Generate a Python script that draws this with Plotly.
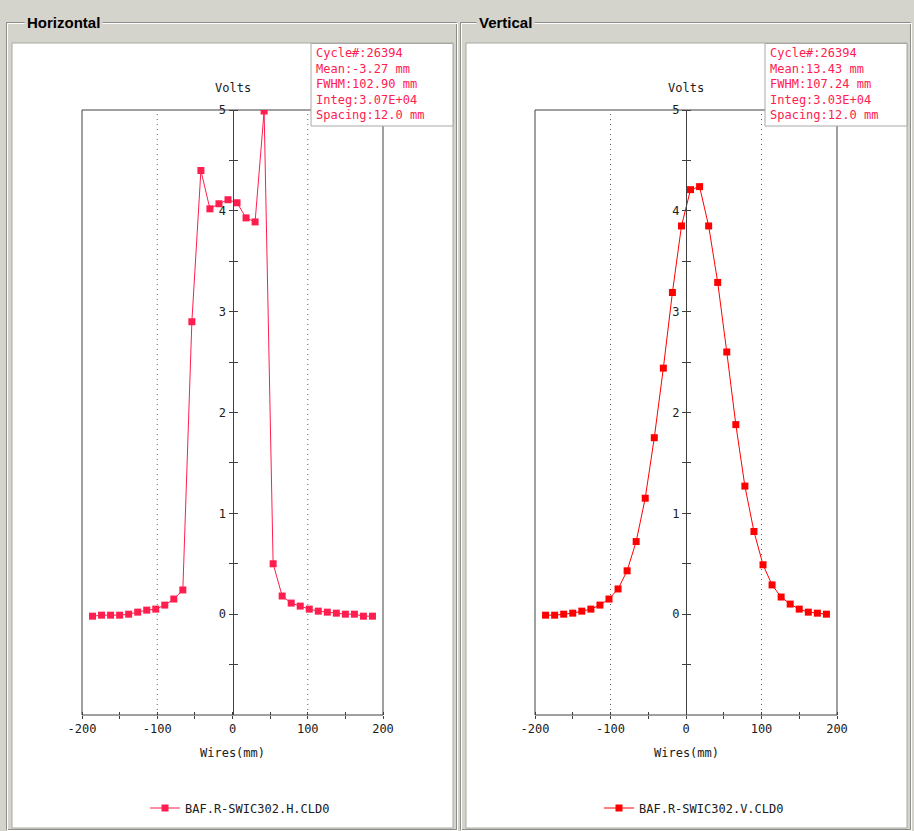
import plotly.graph_objects as go

W, H = 914, 831

# ---------------- data ----------------
WIRES_MM = [-186, -174, -162, -150, -138, -126, -114, -102, -90, -78, -66, -54,
            -42, -30, -18, -6, 6, 18, 30, 42, 54, 66, 78, 90,
            102, 114, 126, 138, 150, 162, 174, 186]

H_VOLTS = [-0.02, -0.01, -0.01, -0.01, 0.00, 0.02, 0.04, 0.05, 0.09, 0.15, 0.24, 2.90,
           4.40, 4.02, 4.07, 4.11, 4.08, 3.93, 3.89, 4.99, 0.50, 0.18, 0.11, 0.08,
           0.05, 0.03, 0.02, 0.01, 0.00, 0.00, -0.02, -0.02]

V_VOLTS = [-0.01, -0.01, 0.00, 0.01, 0.03, 0.05, 0.09, 0.15, 0.25, 0.43, 0.72, 1.15,
           1.75, 2.44, 3.19, 3.85, 4.21, 4.24, 3.85, 3.29, 2.60, 1.88, 1.27, 0.82,
           0.49, 0.29, 0.17, 0.10, 0.05, 0.02, 0.01, 0.00]

H_NAME = "BAF.R-SWIC302.H.CLD0"
V_NAME = "BAF.R-SWIC302.V.CLD0"

INFO_H = ["Cycle#:26394", "Mean:-3.27 mm", "FWHM:102.90 mm", "Integ:3.07E+04", "Spacing:12.0 mm"]
INFO_V = ["Cycle#:26394", "Mean:13.43 mm", "FWHM:107.24 mm", "Integ:3.03E+04", "Spacing:12.0 mm"]

X_TICKS = [-200, -150, -100, -50, 0, 50, 100, 150, 200]
X_TICK_TEXT = ["-200", "", "-100", "", "0", "", "100", "", "200"]
Y_TICKS = [-0.5, 0, 0.5, 1, 1.5, 2, 2.5, 3, 3.5, 4, 4.5, 5]
Y_TICK_TEXT = ["", "0", "", "1", "", "2", "", "3", "", "4", "", "5"]
GRID_X = [-100, 100]
X_RANGE = [-200, 200]
Y_RANGE = [-1, 5]

# ---------------- styles ----------------
H_COLOR = "#ff1e4e"
V_COLOR = "#ff0000"
INFO_COLOR = "#ff2050"
BG = "#d4d3cc"
AXC = "#404040"
MONO = "DejaVu Sans Mono"
TXT = "#202020"


def px(x):
    return x / W


def py(y):
    return 1 - y / H


LEFT_DOM = [px(82), px(383)]
RIGHT_DOM = [px(535), px(837)]
Y_DOM = [py(715), py(110)]

fig = go.Figure()

fig.add_trace(go.Scatter(
    x=WIRES_MM, y=H_VOLTS, mode="lines+markers", name=H_NAME,
    line=dict(color=H_COLOR, width=1),
    marker=dict(symbol="square", size=7, color=H_COLOR),
    xaxis="x", yaxis="y", legend="legend"))
fig.add_trace(go.Scatter(
    x=WIRES_MM, y=V_VOLTS, mode="lines+markers", name=V_NAME,
    line=dict(color=V_COLOR, width=1),
    marker=dict(symbol="square", size=7, color=V_COLOR),
    xaxis="x2", yaxis="y2", legend="legend2"))
# empty traces so the overlay (crossing-tick) axes are drawn
fig.add_trace(go.Scatter(x=[], y=[], xaxis="x3", yaxis="y3", showlegend=False, hoverinfo="skip"))
fig.add_trace(go.Scatter(x=[], y=[], xaxis="x4", yaxis="y4", showlegend=False, hoverinfo="skip"))

tickfont = dict(family=MONO, size=12, color=TXT)


def xax(dom, anchor):
    return dict(domain=dom, range=X_RANGE, anchor=anchor, tickmode="array",
                tickvals=X_TICKS, ticktext=X_TICK_TEXT, ticks="outside", ticklen=3,
                tickcolor=AXC, showline=False, showgrid=False, zeroline=False,
                tickfont=tickfont, fixedrange=True, automargin=False)


def yax(dom, pos):
    return dict(domain=dom, range=Y_RANGE, anchor="free", position=pos, tickmode="array",
                tickvals=Y_TICKS, ticktext=Y_TICK_TEXT, ticks="outside", ticklen=4,
                tickcolor=AXC, showline=True, linecolor=AXC, linewidth=1,
                showgrid=False, zeroline=False, tickfont=tickfont, fixedrange=True,
                automargin=False)


def xover(base):
    return dict(overlaying=base, range=X_RANGE, anchor="free", position=Y_DOM[0],
                side="top", tickmode="array", tickvals=X_TICKS, ticks="outside", ticklen=3,
                tickcolor=AXC, showticklabels=False, showline=False, showgrid=False,
                zeroline=False, fixedrange=True, automargin=False)


def yover(base, pos):
    return dict(overlaying=base, range=Y_RANGE, anchor="free", position=pos, side="right",
                tickmode="array", tickvals=Y_TICKS, ticks="outside", ticklen=4,
                tickcolor=AXC, showticklabels=False, showline=False, showgrid=False,
                zeroline=False, fixedrange=True, automargin=False)


LPOS = (LEFT_DOM[0] + LEFT_DOM[1]) / 2
RPOS = (RIGHT_DOM[0] + RIGHT_DOM[1]) / 2

shapes = []
# group frames (etched)
for (x0, x1) in [(7, 457), (461, 911)]:
    shapes.append(dict(type="rect", xref="paper", yref="paper", layer="below",
                       x0=px(x0 - 0.5), x1=px(x1 - 0.5), y0=py(829.5), y1=py(22.5),
                       line=dict(color="#8c8c88", width=1), fillcolor="rgba(0,0,0,0)"))
    shapes.append(dict(type="rect", xref="paper", yref="paper", layer="below",
                       x0=px(x0 + 0.5), x1=px(x1 + 0.5), y0=py(830.5), y1=py(23.5),
                       line=dict(color="#ffffff", width=1), fillcolor="rgba(0,0,0,0)"))
# white inner panels
for (x0, x1) in [(12, 453), (466, 907)]:
    shapes.append(dict(type="rect", xref="paper", yref="paper", layer="below",
                       x0=px(x0), x1=px(x1), y0=py(828), y1=py(43),
                       line=dict(color="#a8a8a4", width=1), fillcolor="#ffffff"))
# plot boxes and dotted reference lines
for xr, yr in [("x", "y"), ("x2", "y2")]:
    for gx in GRID_X:
        shapes.append(dict(type="line", xref=xr, yref=yr + " domain", layer="below",
                           x0=gx, x1=gx, y0=0, y1=1,
                           line=dict(color="#606060", width=1, dash="1px,4px")))
    shapes.append(dict(type="rect", xref=xr + " domain", yref=yr + " domain", layer="below",
                       x0=0, x1=1, y0=0, y1=1, line=dict(color=AXC, width=1),
                       fillcolor="rgba(0,0,0,0)"))
# info boxes (drawn above)
for (x0, x1) in [(311, 453), (765, 907)]:
    shapes.append(dict(type="rect", xref="paper", yref="paper", layer="above",
                       x0=px(x0), x1=px(x1), y0=py(126), y1=py(43.5),
                       line=dict(color="#a8a8a4", width=1), fillcolor="#ffffff"))

annotations = []
for txt, x0 in [("Horizontal", 24), ("Vertical", 476)]:
    annotations.append(dict(text="<b>" + txt + "</b>", xref="paper", yref="paper",
                            x=px(x0), y=py(23), xanchor="left", yanchor="middle",
                            showarrow=False, bgcolor=BG, borderpad=2,
                            font=dict(family="Liberation Sans", size=15, color="#000000")))
for pos in [LPOS, RPOS]:
    annotations.append(dict(text="Volts", xref="paper", yref="paper", x=pos, y=py(88),
                            xanchor="center", yanchor="middle", showarrow=False,
                            font=dict(family=MONO, size=12, color=TXT)))
    annotations.append(dict(text="Wires(mm)", xref="paper", yref="paper", x=pos, y=py(753),
                            xanchor="center", yanchor="middle", showarrow=False,
                            font=dict(family=MONO, size=12, color=TXT)))
for lines, x0 in [(INFO_H, 314), (INFO_V, 768)]:
    annotations.append(dict(text="<br>".join(lines), xref="paper", yref="paper",
                            x=px(x0), y=py(44), xanchor="left", yanchor="top",
                            align="left", showarrow=False,
                            font=dict(family=MONO, size=12, color=INFO_COLOR)))

legend_common = dict(xanchor="left", yanchor="middle", bgcolor="rgba(0,0,0,0)",
                     borderwidth=0, font=dict(family=MONO, size=12, color=TXT),
                     itemclick=False, itemdoubleclick=False)

fig.update_layout(
    width=W, height=H, margin=dict(l=0, r=0, t=0, b=0, autoexpand=False), autosize=False,
    paper_bgcolor=BG, plot_bgcolor="rgba(0,0,0,0)",
    xaxis=xax(LEFT_DOM, "y"), yaxis=yax(Y_DOM, LPOS),
    xaxis2=xax(RIGHT_DOM, "y2"), yaxis2=yax(Y_DOM, RPOS),
    xaxis3=xover("x"), yaxis3=yover("y", LPOS),
    xaxis4=xover("x2"), yaxis4=yover("y2", RPOS),
    shapes=shapes, annotations=annotations,
    legend=dict(x=px(145), y=py(808), **legend_common),
    legend2=dict(x=px(599), y=py(808), **legend_common),
    showlegend=True, hovermode=False,
)

fig.write_html("out.html")
